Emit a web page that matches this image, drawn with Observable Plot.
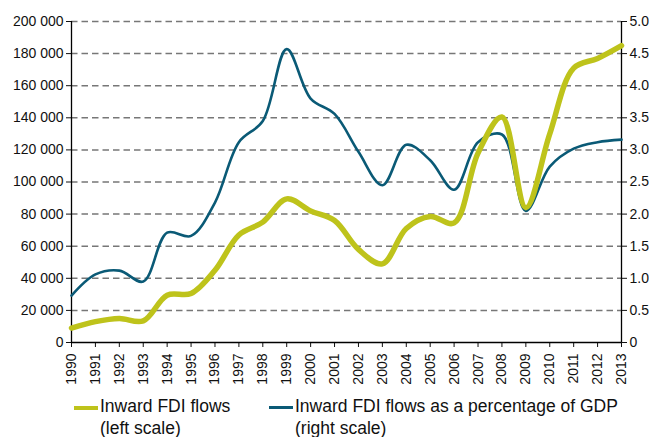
<!DOCTYPE html>
<html>
<head>
<meta charset="utf-8">
<script src="https://cdn.jsdelivr.net/npm/d3@7"></script>
<script src="https://cdn.jsdelivr.net/npm/@observablehq/plot@0.6"></script>
<style>
  body { margin: 0; background: #fff; font-family: "Liberation Sans", Arial, sans-serif; }
  #wrap { position: relative; width: 649px; height: 437px; }
  .leg { position: absolute; font-size: 17.5px; line-height: 21.5px; color: #111; white-space: nowrap; }
  .sw { position: absolute; }
</style>
</head>
<body>
<div id="wrap">
  <div id="chart"></div>
  <div class="sw" id="sw1" style="left:74px; top:405.5px; width:24px; height:4.5px;"></div>
  <div class="leg" id="lg1" style="left:100px; top:396px;"></div>
  <div class="sw" id="sw2" style="left:269px; top:406px; width:24px; height:3px;"></div>
  <div class="leg" id="lg2" style="left:295px; top:396px;"></div>
</div>
<script>
const years = [1990,1991,1992,1993,1994,1995,1996,1997,1998,1999,2000,2001,2002,2003,2004,2005,2006,2007,2008,2009,2010,2011,2012,2013];
const fdiFlows = [9000,13000,15000,13500,29500,30500,45000,67000,75000,89500,82000,76000,58000,49000,71000,78500,74500,118000,140500,84000,130000,171000,177000,185000];
const fdiPctGdp = [0.73,1.06,1.12,0.95,1.71,1.66,2.18,3.12,3.45,4.57,3.8,3.56,2.97,2.45,3.08,2.84,2.38,3.12,3.24,2.05,2.74,3.02,3.12,3.16];
const leftTickValues = [0,20000,40000,60000,80000,100000,120000,140000,160000,180000,200000];
const leftTickLabels = ["0","20 000","40 000","60 000","80 000","100 000","120 000","140 000","160 000","180 000","200 000"];
const rightTickLabels = ["0","0.5","1.0","1.5","2.0","2.5","3.0","3.5","4.0","4.5","5.0"];
const rightMax = 5;
const seriesNames = ["Inward FDI flows", "Inward FDI flows as a percentage of GDP"];
const seriesNotes = ["(left scale)", "(right scale)"];
const colors = ["#bec31b", "#0a5a76"];

const leftMax = 200000;
const flowsData = years.map((y, i) => ({year: y, v: fdiFlows[i]}));
const pctData = years.map((y, i) => ({year: y, v: fdiPctGdp[i] * leftMax / rightMax}));

const chart = Plot.plot({
  width: 649,
  height: 392,
  marginLeft: 71,
  marginRight: 28,
  marginTop: 21,
  marginBottom: 50,
  style: {fontFamily: "'Liberation Sans', Arial, sans-serif", fontSize: "14px", color: "#111", background: "#fff"},
  x: {domain: [1990, 2013]},
  y: {domain: [0, leftMax]},
  marks: [
    Plot.gridY(leftTickValues.slice(1), {stroke: "#777", strokeOpacity: 1, strokeWidth: 1.5, strokeDasharray: "6.5,4"}),
    Plot.axisY({anchor: "left", ticks: leftTickValues, tickFormat: (d, i) => leftTickLabels[i], tickSize: 5, tickPadding: 3, label: null, fontSize: 14}),
    Plot.axisY({anchor: "right", ticks: leftTickValues, tickFormat: (d, i) => rightTickLabels[i], tickSize: 5, tickPadding: 3, label: null, fontSize: 14}),
    Plot.axisX({ticks: years, tickFormat: d => String(d), tickRotate: -90, tickSize: 5, tickPadding: 6, label: null, fontSize: 14}),
    Plot.ruleX([1990, 2013], {stroke: "#000", strokeWidth: 1.3}),
    Plot.ruleY([0], {stroke: "#000", strokeWidth: 1.3}),
    Plot.line(pctData, {x: "year", y: "v", stroke: colors[1], strokeWidth: 2.6, curve: "catmull-rom"}),
    Plot.line(flowsData, {x: "year", y: "v", stroke: colors[0], strokeWidth: 5.5, curve: "catmull-rom"})
  ]
});
document.getElementById("chart").appendChild(chart);

document.getElementById("sw1").style.background = colors[0];
document.getElementById("sw2").style.background = colors[1];
document.getElementById("lg1").innerHTML = seriesNames[0] + "<br>" + seriesNotes[0];
document.getElementById("lg2").innerHTML = seriesNames[1] + "<br>" + seriesNotes[1];
</script>
</body>
</html>
